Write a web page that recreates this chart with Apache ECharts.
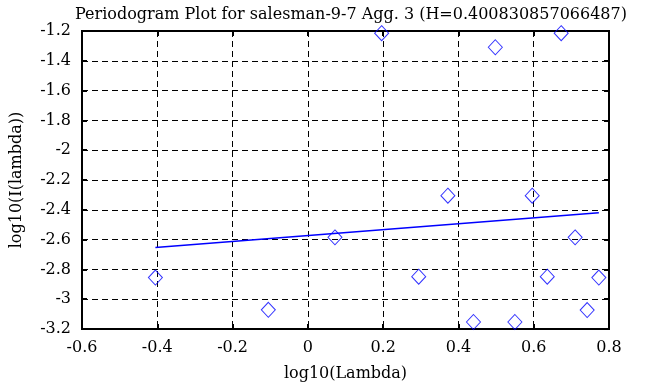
<!DOCTYPE html>
<html><head><meta charset="utf-8">
<script src="https://cdn.jsdelivr.net/npm/echarts@6/dist/echarts.min.js"></script>
<style>html,body{margin:0;padding:0;background:#fff}#c{width:663px;height:387px}</style>
</head><body><div id="c"></div>
<script>
var titleText = 'Periodogram Plot for salesman-9-7 Agg. 3 (H=0.400830857066487)';
var xName = 'log10(Lambda)';
var yName = 'log10(I(lambda))';
var pointX = [-0.405, -0.105, 0.072, 0.196, 0.2945, 0.372, 0.440, 0.498, 0.550, 0.596, 0.636, 0.673, 0.710, 0.742, 0.773];
var pointY = [-2.855, -3.071, -2.585, -1.215, -2.849, -2.305, -3.153, -1.309, -3.153, -2.305, -2.849, -1.215, -2.585, -3.073, -2.855];
var fitX = [-0.405, 0.773];
var fitY = [-2.653, -2.420];

var font = 'DejaVu Serif';
var pts = pointX.map(function(x, i){ return [x, pointY[i]]; });
var fit = fitX.map(function(x, i){ return [x, fitY[i]]; });
var gridLine = {show:true, lineStyle:{color:'#000', type:[6,4], width:1}};
var chart = echarts.init(document.getElementById('c'), null, {renderer:'canvas'});
chart.setOption({
  animation:false,
  backgroundColor:'#fff',
  title:{text:titleText, left:346, textAlign:'center', top:2, textStyle:{fontFamily:font, fontSize:16, fontWeight:'normal', color:'#000'}},
  grid:{left:82, right:54, top:31, bottom:56, show:true, borderColor:'#000', borderWidth:2, backgroundColor:'transparent'},
  xAxis:[{type:'value', min:-0.6, max:0.8, interval:0.2, name:xName, nameLocation:'middle', nameGap:37,
    nameTextStyle:{fontFamily:font, fontSize:16, color:'#000'},
    axisLine:{show:true, onZero:false, lineStyle:{color:'#000', width:2}},
    axisTick:{show:true, inside:true, length:5, lineStyle:{color:'#000', width:2}},
    axisLabel:{fontFamily:font, fontSize:16, color:'#000', margin:11,
      formatter:function(v){ return String(Math.round(v*10)/10); }},
    splitLine:gridLine},
    {type:'value', position:'top', min:-0.6, max:0.8, interval:0.2,
    axisLine:{show:true, onZero:false, lineStyle:{color:'#000', width:2}},
    axisTick:{show:true, inside:true, length:5, lineStyle:{color:'#000', width:2}},
    axisLabel:{show:false}, splitLine:{show:false}}],
  yAxis:[{type:'value', min:-3.2, max:-1.2, interval:0.2, name:yName, nameLocation:'middle', nameGap:57,
    nameTextStyle:{fontFamily:font, fontSize:16, color:'#000'},
    axisLine:{show:true, onZero:false, lineStyle:{color:'#000', width:2}},
    axisTick:{show:true, inside:true, length:5, lineStyle:{color:'#000', width:2}},
    axisLabel:{fontFamily:font, fontSize:16, color:'#000', margin:11,
      formatter:function(v){ return String(Math.round(v*10)/10); }},
    splitLine:gridLine},
    {type:'value', position:'right', min:-3.2, max:-1.2, interval:0.2,
    axisLine:{show:true, onZero:false, lineStyle:{color:'#000', width:2}},
    axisTick:{show:true, inside:true, length:5, lineStyle:{color:'#000', width:2}},
    axisLabel:{show:false}, splitLine:{show:false}}],
  series:[
    {type:'scatter', data:pts, symbol:'diamond', symbolSize:[14,15], clip:false,
      itemStyle:{color:'rgba(0,0,0,0)', borderColor:'#0000ff', borderWidth:1}},
    {type:'line', data:fit, symbol:'none', lineStyle:{color:'#0000ff', width:1.5}}
  ]
});
</script></body></html>
